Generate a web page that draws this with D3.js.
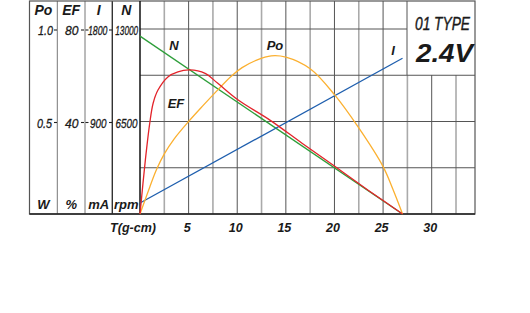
<!DOCTYPE html>
<html>
<head>
<meta charset="utf-8">
<script src="https://cdn.jsdelivr.net/npm/d3@7"></script>
<style>
body { margin: 0; background: #fff; }
text { font-family: "Liberation Sans", Arial, sans-serif; font-style: italic; fill: #1a1a1a; }
</style>
</head>
<body>
<div id="chart"></div>
<script>
"use strict"
// motor curve: torque T(g-cm) against Po, EF, I, N
var width = 530,
	height = 313;

var xTicks = [5, 10, 15, 20, 25, 30];
var colHeads = ["Po", "EF", "I", "N"];
var colUnits = ["W", "%", "mA", "rpm"];
var topVals = ["1.0", "80", "1800", "13000"];
var midVals = ["0.5", "40", "900", "6500"];

// N (rpm) and I (mA) are straight lines
var nT = [0, 27],
	nRpm = [12500, 0];
var iT = [0, 27],
	iMA = [107, 1515];
// Po (W)
var poT = [0, 1, 1.7, 2.5, 3.5, 5, 6.5, 8, 9.3, 10.5, 12, 13.5, 15, 17.5, 20, 22.5, 25, 26, 27],
	poW = [0, 0.145, 0.24, 0.325, 0.405, 0.50, 0.587, 0.671, 0.741, 0.791, 0.832, 0.855, 0.848, 0.785, 0.645, 0.465, 0.256, 0.135, 0];
// EF (%)
var efT = [0, 0.55, 1.0, 1.35, 1.85, 2.9, 3.9, 5.1, 6.7, 8.0, 10.1, 13.4, 16.7, 20.1, 23.5, 27],
	efPct = [0, 23.3, 39.2, 47.9, 53.6, 59.4, 61.5, 62.3, 60.8, 56.5, 49.3, 40.5, 30.5, 20.4, 10.2, 0];

var fLeft = 29.5, fRight = 475, fTop = 1, fBottom = 214,
	axisX = 140, boxX = 407, boxY = 75;
var dividers = [57.3, 85, 112.3];

var svg = d3.select("#chart").append("svg")
	.attr("width", width)
	.attr("height", height);

var x = d3.scaleLinear().domain([0, 30]).range([axisX, 431.7]);
var yPo = d3.scaleLinear().domain([0, 1]).range([fBottom, 29]);
var yEF = d3.scaleLinear().domain([0, 80]).range([fBottom, 29]);
var yI = d3.scaleLinear().domain([0, 1800]).range([fBottom, 29]);
var yN = d3.scaleLinear().domain([0, 13000]).range([fBottom, 29]);

// grid: vertical lines every 2.5, lighter on the half steps
var g = svg.append("g");
d3.range(2.5, 33, 2.5).forEach(function(t) {
	var major = t % 5 === 0;
	g.append("line")
		.attr("x1", x(t)).attr("x2", x(t))
		.attr("y1", x(t) > boxX ? boxY : fTop).attr("y2", fBottom)
		.style("stroke", major ? "#555" : "#aaa")
		.style("stroke-width", major ? 1 : 1.6);
});
[0.25, 0.5, 0.75, 1.0].forEach(function(v) {
	g.append("line")
		.attr("x1", axisX).attr("x2", v > 0.75 ? boxX : fRight)
		.attr("y1", yPo(v)).attr("y2", yPo(v))
		.style("stroke", "#555")
		.style("stroke-width", 1);
});
// box for the type label
g.append("line")
	.attr("x1", boxX).attr("x2", boxX)
	.attr("y1", fTop).attr("y2", boxY)
	.style("stroke", "#555");

// left columns
dividers.forEach(function(d, i) {
	g.append("line")
		.attr("x1", d).attr("x2", d)
		.attr("y1", fTop).attr("y2", fBottom)
		.style("stroke", i === 2 ? "#333" : "#777")
		.style("stroke-width", i === 2 ? 1.4 : 1);
});
g.append("rect")
	.attr("x", fLeft).attr("y", fTop)
	.attr("width", fRight - fLeft).attr("height", fBottom - fTop)
	.style("fill", "none")
	.style("stroke", "#555")
	.style("stroke-width", 1.2);
g.append("line")
	.attr("x1", axisX).attr("x2", axisX)
	.attr("y1", fTop).attr("y2", fBottom)
	.style("stroke", "#111")
	.style("stroke-width", 1.5);
g.append("line")
	.attr("x1", fLeft).attr("x2", fRight)
	.attr("y1", fBottom).attr("y2", fBottom)
	.style("stroke", "#222")
	.style("stroke-width", 1.4);

// little tick dashes on the column dividers at 1.0 and 0.5
var tickSegs = [[54, 57], [81, 84], [85.5, 88.5], [109, 112]];
[1.0, 0.5].forEach(function(v) {
	tickSegs.forEach(function(s) {
		g.append("line")
			.attr("x1", s[0]).attr("x2", s[1])
			.attr("y1", yPo(v) + 1).attr("y2", yPo(v) + 1)
			.style("stroke", "#222")
			.style("stroke-width", 1.1);
	});
});

// curves
function curve(xs, ys, yscale, color) {
	var pts = xs.map(function(t, i) { return [x(t), yscale(ys[i])]; });
	svg.append("path")
		.attr("d", d3.line().curve(d3.curveCatmullRom.alpha(0.5))(pts))
		.style("fill", "none")
		.style("stroke", color)
		.style("stroke-width", 1.3);
}
curve(nT, nRpm, yN, "#2e9e3a");
curve(iT, iMA, yI, "#1f5fae");
curve(poT, poW, yPo, "#fbb030");
curve(efT, efPct, yEF, "#e3232a");

// curve labels
var lbl = [["N", 174, 50], ["Po", 275, 50], ["EF", 176, 108], ["I", 393, 55]];
lbl.forEach(function(l) {
	svg.append("text")
		.attr("x", l[1]).attr("y", l[2])
		.attr("text-anchor", "middle")
		.style("font-size", "13px")
		.style("font-weight", "bold")
		.text(l[0]);
});

// column headers, values, units
var colCenters = [43.4, 71.2, 98.7, 126.2];
colHeads.forEach(function(h, i) {
	svg.append("text")
		.attr("x", colCenters[i]).attr("y", 15)
		.attr("text-anchor", "middle")
		.style("font-size", "14px")
		.style("font-weight", "bold")
		.text(h);
	svg.append("text")
		.attr("x", colCenters[i]).attr("y", 209)
		.attr("text-anchor", "middle")
		.style("font-size", "13px")
		.style("font-weight", "bold")
		.text(colUnits[i]);
});
var topStarts = [38, 65, 88, 115.2], topW = [15, 13.5, 19.5, 23];
var midStarts = [37, 65, 90, 115.5], midW = [15, 13.5, 16.5, 22];
topVals.forEach(function(v, i) {
	svg.append("text")
		.attr("x", topStarts[i]).attr("y", yPo(1) + 6)
		.attr("textLength", topW[i])
		.attr("lengthAdjust", "spacingAndGlyphs")
		.style("font-size", "13.5px")
		.style("stroke", "#1a1a1a")
		.style("stroke-width", 0.3)
		.text(v);
	svg.append("text")
		.attr("x", midStarts[i]).attr("y", yPo(0.5) + 6)
		.attr("textLength", midW[i])
		.attr("lengthAdjust", "spacingAndGlyphs")
		.style("font-size", "13.5px")
		.style("stroke", "#1a1a1a")
		.style("stroke-width", 0.3)
		.text(midVals[i]);
});

// x axis labels
xTicks.forEach(function(t) {
	svg.append("text")
		.attr("x", x(t) - 1.5).attr("y", 232)
		.attr("text-anchor", "middle")
		.style("font-size", "12.5px")
		.style("font-weight", "bold")
		.text(t);
});
svg.append("text")
	.attr("x", 133).attr("y", 232)
	.attr("text-anchor", "middle")
	.style("font-size", "12.5px")
	.style("font-weight", "bold")
	.text("T(g-cm)");

// type box
svg.append("text")
	.attr("x", 415).attr("y", 30)
	.attr("textLength", 55)
	.attr("lengthAdjust", "spacingAndGlyphs")
	.style("font-size", "18px")
	.style("stroke", "#1a1a1a")
	.style("stroke-width", 0.4)
	.text("01 TYPE");
svg.append("text")
	.attr("x", 416).attr("y", 62)
	.attr("textLength", 57)
	.attr("lengthAdjust", "spacingAndGlyphs")
	.style("font-size", "26px")
	.style("font-weight", "bold")
	.text("2.4V");
</script>
</body>
</html>
